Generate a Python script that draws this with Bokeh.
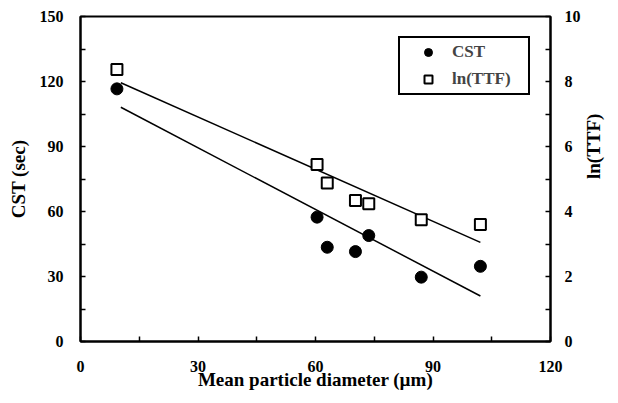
import math
import numpy as np
from bokeh.plotting import figure
from bokeh.models import Range1d, LinearAxis, FixedTicker, Legend, LegendItem, ColumnDataSource
from bokeh.embed import file_html
from bokeh.resources import INLINE

# Data
diameter = [9.3, 60.4, 63.0, 70.2, 73.6, 87.0, 102.1]      # Mean particle diameter (µm)
cst = [116.6, 57.4, 43.5, 41.5, 48.9, 29.7, 34.7]          # CST (sec)
ln_ttf = [8.37, 5.45, 4.88, 4.34, 4.24, 3.75, 3.60]        # ln(TTF)

# fitted trend lines as drawn in the reference
fit_x = [10.3, 102.1]
cst_fit = [108.1, 21.0]
ttf_fit = [7.96, 3.05]

x_ticks = [0, 30, 60, 90, 120]
x_minor = [15, 45, 75, 105]
cst_ticks = [0, 30, 60, 90, 120, 150]
cst_minor = [15, 45, 75, 105, 135]
ttf_ticks = [0, 2, 4, 6, 8, 10]
ttf_minor = [1, 3, 5, 7, 9]

FONT = "Liberation Serif"

p = figure(width=618, height=395, output_backend="svg", toolbar_location=None,
           x_range=Range1d(0, 120), y_range=Range1d(0, 150),
           min_border_left=80, min_border_right=68, min_border_top=16, min_border_bottom=54)
p.extra_y_ranges = {"ttf": Range1d(0, 10)}
p.grid.visible = False
p.outline_line_color = "black"
p.outline_line_width = 2
p.background_fill_color = "white"
p.border_fill_color = "white"

def style_axis(ax, major, minor, standoff, label_standoff):
    ax.ticker = FixedTicker(ticks=major, minor_ticks=minor)
    ax.axis_line_color = "black"
    ax.axis_line_width = 2
    ax.major_tick_in = 5
    ax.major_tick_out = 0
    ax.minor_tick_in = 5
    ax.minor_tick_out = 0
    ax.major_tick_line_width = 1.5
    ax.minor_tick_line_width = 1.5
    ax.major_label_text_font = FONT
    ax.major_label_text_font_style = "bold"
    ax.major_label_text_font_size = "16px"
    ax.major_label_text_color = "black"
    ax.major_label_standoff = standoff
    ax.axis_label_text_font = FONT
    ax.axis_label_text_font_style = "bold"
    ax.axis_label_text_font_size = "19px"
    ax.axis_label_text_color = "black"
    ax.axis_label_standoff = label_standoff

style_axis(p.xaxis[0], x_ticks, x_minor, 19, -6)
p.xaxis[0].axis_label = "Mean particle diameter (\u00b5m)"
style_axis(p.yaxis[0], cst_ticks, cst_minor, 17, 8)
p.yaxis[0].axis_label = "CST (sec)"

rax = LinearAxis(y_range_name="ttf", axis_label="ln(TTF)")
style_axis(rax, ttf_ticks, ttf_minor, 14, 10)
rax.axis_label_orientation = math.pi / 2
p.add_layout(rax, "right")

p.line(fit_x, cst_fit, line_color="black", line_width=1.5)
p.line(fit_x, ttf_fit, line_color="black", line_width=1.5, y_range_name="ttf")

src = ColumnDataSource(dict(x=diameter, cst=cst, ttf=ln_ttf))
r1 = p.scatter("x", "cst", source=src, marker="circle", size=12,
               fill_color="black", line_color="black")
r2 = p.scatter("x", "ttf", source=src, marker="square", size=11, y_range_name="ttf",
               fill_color="white", line_color="black", line_width=2)

legend = Legend(items=[LegendItem(label="CST", renderers=[r1]),
                       LegendItem(label="ln(TTF)", renderers=[r2])],
                location=(318, 246))
legend.border_line_color = "black"
legend.border_line_alpha = 1.0
legend.border_line_width = 2
legend.background_fill_color = "white"
legend.background_fill_alpha = 1.0
legend.label_text_font = FONT
legend.label_text_font_style = "bold"
legend.label_text_font_size = "17px"
legend.padding = 4
legend.spacing = 7
legend.margin = 0
legend.glyph_width = 48
legend.glyph_height = 20
legend.label_standoff = 0
legend.label_width = 72
p.add_layout(legend, "center")

open("out.html", "w").write(file_html(p, INLINE))
